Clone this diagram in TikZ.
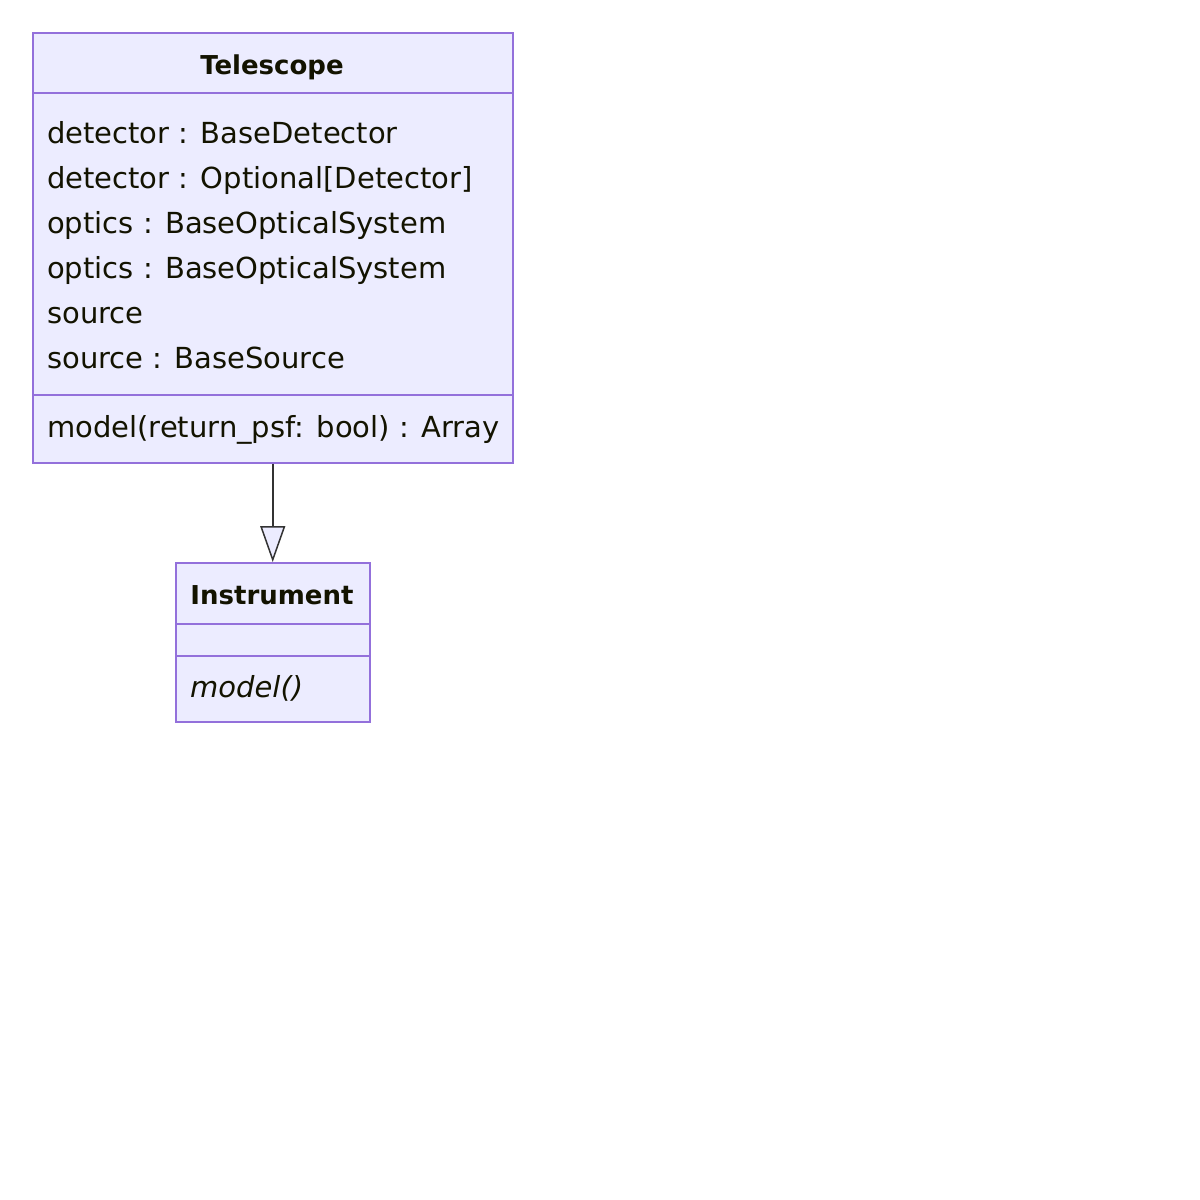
\documentclass[tikz,border=0pt]{standalone}
\usepackage{fontspec}
\setmainfont{DejaVu Sans}
\usetikzlibrary{arrows.meta}
\definecolor{boxfill}{HTML}{ECECFF}
\definecolor{boxline}{HTML}{9370DB}
\definecolor{txt}{HTML}{131300}
\definecolor{edgecol}{HTML}{333333}
\tikzset{
  classbox/.style={draw=boxline, fill=boxfill, line width=1.5pt, anchor=north west, inner sep=0pt},
  divider/.style={draw=boxline, line width=1.5pt},
  attr/.style={anchor=west, inner sep=0pt, text=txt, font=\fontsize{29}{33}\selectfont, text height=21pt, text depth=6pt},
  title/.style={anchor=center, inner sep=0pt, text=txt, font=\fontsize{26}{30}\selectfont\bfseries, text height=19pt, text depth=5pt},
  inherit/.style={draw=edgecol, line width=1.5pt, -{Triangle[open, length=36pt, width=25pt, fill=boxfill]}}
}
\begin{document}
\begin{tikzpicture}[x=1pt,y=-1pt]
\useasboundingbox (0,0) rectangle (1200,1200);
% Telescope
\node[classbox, minimum width=480pt, minimum height=430pt] (tel) at (32,32) {};
\draw[divider] (32,93) -- (512,93);
\draw[divider] (32,395) -- (512,395);
\node[title] (telt) at (272,67) {Telescope};
\node[attr] (a1) at (47,136) {detector : BaseDetector};
\node[attr] (a2) at (47,181) {detector : Optional[Detector]};
\node[attr] (a3) at (47,226) {optics : BaseOpticalSystem};
\node[attr] (a4) at (47,271) {optics : BaseOpticalSystem};
\node[attr] (a5) at (47,316) {source};
\node[attr] (a6) at (47,361) {source : BaseSource};
\node[attr] (m1) at (47,430) {model(return\_psf: bool) : Array};
% Instrument
\node[classbox, minimum width=194pt, minimum height=159pt] (ins) at (175,562) {};
\draw[divider] (175,624) -- (369,624);
\draw[divider] (175,656) -- (369,656);
\node[title] (inst) at (272,597) {Instrument};
\node[attr, font=\fontsize{29}{33}\selectfont\itshape] (m2) at (190,690) {model()};
% inheritance
\draw[inherit] (tel.south) -- (ins.north);
\end{tikzpicture}
\end{document}
